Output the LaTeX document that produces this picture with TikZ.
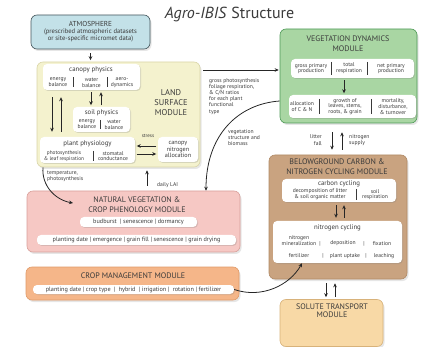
\documentclass[tikz,border=0pt]{standalone}
\usepackage{fontspec}
\setmainfont{PT Sans}
\usetikzlibrary{arrows.meta,shadows}

\definecolor{textgrey}{HTML}{3A3A3A}
\definecolor{atmofill}{HTML}{C3E1E8}
\definecolor{atmoline}{HTML}{44555B}
\definecolor{landfill}{HTML}{F4F2CE}
\definecolor{landline}{HTML}{D9D5A8}
\definecolor{vegfill}{HTML}{A9D6A3}
\definecolor{vegline}{HTML}{4E9A57}
\definecolor{natfill}{HTML}{F6C8C4}
\definecolor{natline}{HTML}{D9A09B}
\definecolor{cropfill}{HTML}{F5B689}
\definecolor{cropline}{HTML}{E09A68}
\definecolor{belowfill}{HTML}{C9A380}
\definecolor{belowline}{HTML}{B08A66}
\definecolor{solutefill}{HTML}{F8D9A6}
\definecolor{soluteline}{HTML}{D8B27A}

\tikzset{
	module/.style={draw, line width=0.6pt, rounded corners=6pt, inner sep=0pt,
		drop shadow={shadow xshift=1.5pt, shadow yshift=-2pt, opacity=0.2}},
	subbox/.style={fill=white, rounded corners=4pt, inner sep=0pt,
		drop shadow={shadow xshift=1pt, shadow yshift=-1pt, opacity=0.25}},
	modtitle/.style={font=\fontsize{8}{10}\selectfont, align=center, text=textgrey, inner sep=0pt},
	head/.style={font=\fontsize{6.8}{7}\selectfont, text=textgrey, inner sep=0pt},
	item/.style={font=\fontsize{5.6}{5.8}\selectfont, align=center, text=textgrey, inner sep=0pt},
	bar/.style={font=\fontsize{6.2}{6.5}\selectfont, text=textgrey},
	note/.style={font=\fontsize{5.6}{6.2}\selectfont, align=left, text=textgrey, inner sep=0pt},
	divider/.style={line width=0.5pt, draw=textgrey},
	flow/.style={-{Stealth[length=4pt,width=3.6pt]}, line width=0.8pt, draw=black!85},
}

\begin{document}
\begin{tikzpicture}[x=1pt, y=-1pt]
		%%%%% START %%%%%
		\useasboundingbox (0,0) rectangle (428,347);
		
		\node[font=\fontsize{16}{17}\selectfont, text=textgrey] (title) at (229.5,15) {\textit{Agro-IBIS} Structure};
		
		\node[module, fill=atmofill, draw=atmoline, minimum width=119pt, minimum height=34pt, font=\fontsize{6.6}{7}\selectfont, align=center, text=textgrey] (atm) at (90.5,32) {{\fontsize{7.2}{7}\selectfont ATMOSPHERE}\\(prescribed atmospheric datasets\\or site-specific micromet data)};
		
		%%%%% land surface
		\node[module, fill=landfill, draw=landline, minimum width=163pt, minimum height=105pt] (land) at (118.5,114.5) {};
		\node[modtitle, font=\fontsize{8.4}{10}\selectfont] (landtitle) at (171,103) {LAND\\SURFACE\\MODULE};
		
		\node[subbox, minimum width=97pt, minimum height=26pt] (canopy) at (91.5,77) {};
		\node[head] (canopyhead) at (91,69.5) {canopy physics};
		\node[item] (cenergy) at (58,82.5) {energy\\balance};
		\node[item] (cwater) at (91.5,82.5) {water\\balance};
		\node[item] (caero) at (122,82.5) {aero-\\dynamics};
		\draw[divider] (73,77.5) -- (73,87.5);
		\draw[divider] (107,77.5) -- (107,87.5);
		
		\node[subbox, minimum width=57pt, minimum height=25pt] (soil) at (101.5,119.5) {};
		\node[head] (soilhead) at (101.5,113) {soil physics};
		\node[item] (senergy) at (87,124.5) {energy\\balance};
		\node[item] (swater) at (114,124.5) {water\\balance};
		\draw[divider] (100.5,120) -- (100.5,129);
		
		\node[subbox, minimum width=95pt, minimum height=26pt] (plant) at (87.5,150) {};
		\node[head] (planthead) at (87.5,143.5) {plant physiology};
		\node[item, font=\fontsize{5.3}{5.8}\selectfont] (photo) at (64,156) {photosynthesis\\\& leaf respiration};
		\node[item] (stomata) at (113,156) {stomatal\\conductance};
		\draw[divider] (93,151) -- (93,161);
		
		\node[subbox, minimum width=40pt, minimum height=25pt, item, font=\fontsize{6.2}{6.6}\selectfont] (canopyN) at (178,149.5) {canopy\\nitrogen\\allocation};
		\node[note, font=\fontsize{5}{5}\selectfont] (stress) at (148,136) {stress};
		
		%%%%% vegetation dynamics
		\node[module, fill=vegfill, draw=vegline, minimum width=137pt, minimum height=94pt] (vegdyn) at (348.5,76) {};
		\node[modtitle] (vegtitle) at (348,44) {VEGETATION DYNAMICS\\MODULE};
		
		\node[subbox, minimum width=123pt, minimum height=19pt] (vegrow1) at (352.5,68.5) {};
		\node[item] (gpp) at (311,68.5) {gross primary\\production};
		\node[item] (resp) at (349,68.5) {total\\respiration};
		\node[item] (npp) at (391,68.5) {net primary\\production};
		\draw[divider] (331,62) -- (331,75);
		\draw[divider] (367,62) -- (367,75);
		
		\node[subbox, minimum width=127pt, minimum height=23pt] (vegrow2) at (352.5,106.5) {};
		\node[item] (alloc) at (302,106.5) {allocation\\of C \& N};
		\node[item] (growth) at (345,106.5) {growth of\\leaves, stems,\\roots, \& grain};
		\node[item] (mort) at (393,106.5) {mortality,\\disturbance,\\\& turnover};
		\draw[divider] (319,99) -- (319,114);
		\draw[divider] (371,99) -- (371,114);
		
		%%%%% natural vegetation
		\node[module, fill=natfill, draw=natline, minimum width=213pt, minimum height=61pt] (natveg) at (133.5,221.5) {};
		\node[modtitle] (nattitle) at (137,205) {NATURAL VEGETATION \&\\CROP PHENOLOGY MODULE};
		\node[subbox, bar, minimum width=117pt, minimum height=10pt] (budburst) at (138.5,222) {budburst \ | senescence | dormancy};
		\node[subbox, bar, minimum width=199pt, minimum height=10pt] (stages) at (136.5,240) {planting date | emergence | grain fill | senescence | grain drying};
		
		%%%%% crop management
		\node[module, fill=cropfill, draw=cropline, minimum width=213pt, minimum height=33pt] (crop) at (132.5,283.5) {};
		\node[modtitle] (croptitle) at (133,276) {CROP MANAGEMENT MODULE};
		\node[subbox, bar, minimum width=201pt, minimum height=9pt] (cropbar) at (133.5,289.5) {planting date | crop type \ | \ hybrid \ | irrigation | \ rotation | fertilizer};
		
		%%%%% belowground
		\node[module, fill=belowfill, draw=belowline, minimum width=138pt, minimum height=124pt] (below) at (338,217) {};
		\node[modtitle] (belowtitle) at (337,167) {BELOWGROUND CARBON \&\\NITROGEN CYCLING MODULE};
		
		\node[subbox, minimum width=114pt, minimum height=23pt] (carbon) at (339,190.5) {};
		\node[head] (carbonhead) at (339,184) {carbon cycling};
		\node[item] (decomp) at (320,194.5) {decomposition of litter\\\& soil organic matter};
		\node[item] (soilresp) at (375,194.5) {soil\\respiration};
		\draw[divider] (356,189) -- (356,200);
		
		\node[subbox, minimum width=129pt, minimum height=42pt] (nitrogen) at (337.5,242) {};
		\node[head] (nitrohead) at (337.5,227.5) {nitrogen cycling};
		\node[item] (mineral) at (299,240.5) {nitrogen\\mineralization};
		\node[item] (pipea) at (320,243.5) {|};
		\node[item] (depos) at (343,243.5) {deposition};
		\node[item] (pipeb) at (364,243.5) {|};
		\node[item] (fix) at (382,243.5) {fixation};
		\node[item] (fert) at (299,256) {fertilizer};
		\node[item] (pipec) at (323,256) {|};
		\node[item] (uptake) at (345,256) {plant uptake};
		\node[item] (piped) at (366,256) {|};
		\node[item] (leach) at (384,256) {leaching};
		
		\node[module, fill=solutefill, draw=soluteline, minimum width=103pt, minimum height=47pt] (solute) at (331.5,323) {};
		\node[modtitle, font=\fontsize{8}{8}\selectfont] (solutetitle) at (332,311) {SOLUTE TRANSPORT\\MODULE};
		
		%%%%% arrows
		\draw[flow, shorten <=4pt, shorten >=1.5pt] (atm.south) -- (atm.south |- land.north);
		
		\draw[flow, shorten <=2pt, shorten >=1.5pt] (canopy.south -| 91,0) -- (soil.north -| 91,0);
		\draw[flow, shorten <=1.5pt, shorten >=2pt] (soil.north -| 101,0) -- (canopy.south -| 101,0);
		\draw[flow, shorten <=7pt, shorten >=5pt] (canopy.south -| 52,0) -- (plant.north -| 52,0);
		\draw[flow, shorten <=5pt, shorten >=7pt] (plant.north -| 61,0) -- (canopy.south -| 61,0);
		
		\draw[flow, shorten <=1.5pt, shorten >=1.5pt] (canopyN.west |- 0,146) -- (plant.east |- 0,146);
		\draw[flow, shorten <=1.5pt, shorten >=1.5pt] (plant.east |- 0,154) -- (canopyN.west |- 0,154);
		
		\coordinate (tempend) at (73,203);
		\draw[flow] (land.south -| 43,0) to[out=-95,in=170] (tempend);
		\node[note, anchor=north west] (temptxt) at (47,171) {temperature,\\photosynthesis};
		
		\draw[flow, shorten <=5pt, shorten >=3pt] (natveg.north -| 147,0) -- (land.south -| 147,0);
		\node[note, anchor=west] (lai) at (157,185) {daily LAI};
		
		\draw[flow, shorten <=3pt, shorten >=1pt] (land.east |- 0,70) -- (vegdyn.west |- 0,70);
		\node[note, anchor=north west] (gpptxt) at (209,78) {gross photosynthesis\\foliage respiration,\\\& C/N ratios\\for each plant\\functional\\type};
		
		\draw[flow] (vegdyn.west |- 0,101) .. controls (238,104) and (206,135) .. (natveg.north -| 206,0);
		\node[note, anchor=north west] (vegtxt) at (228,129) {vegetation\\structure and\\biomass};
		
		\draw[flow, shorten <=2pt, shorten >=1.5pt] (vegrow1.south -| 344,0) -- (vegrow2.north -| 344,0);
		
		\draw[flow, shorten <=9pt, shorten >=5pt] (vegdyn.south -| 332,0) -- (below.north -| 332,0);
		\draw[flow, shorten <=5pt, shorten >=9pt] (below.north -| 342,0) -- (vegdyn.south -| 342,0);
		\node[note, anchor=east, align=right] (litter) at (322,140) {litter\\fall};
		\node[note, anchor=west] (supply) at (349,140) {nitrogen\\supply};
		
		\draw[flow, shorten <=3pt, shorten >=3pt] (carbon.south -| 336,0) -- (nitrogen.north -| 336,0);
		\draw[flow, shorten <=3pt, shorten >=3pt] (nitrogen.north -| 344,0) -- (carbon.south -| 344,0);
		
		\draw[flow, shorten <=4pt, shorten >=2pt] (below.south -| 326,0) -- (solute.north -| 326,0);
		\draw[flow, shorten <=2pt, shorten >=4pt] (solute.north -| 335,0) -- (below.south -| 335,0);
		
		\draw[flow] (cropbar.east) .. controls (262,299) and (290,285) .. (nitrogen.south -| 302,0);
		%%%%% END %%%%%
	\end{tikzpicture}
\end{document}
